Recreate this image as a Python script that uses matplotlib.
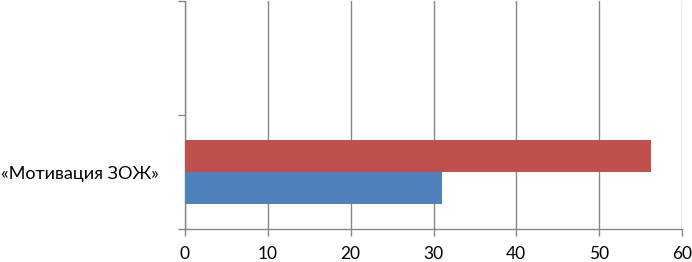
import matplotlib.pyplot as plt
import numpy as np

# данные
categories = ["«Мотивация ЗОЖ»", ""]
blue_vals = [31, np.nan]
red_vals = [56.3, np.nan]
x_ticks = [0, 10, 20, 30, 40, 50, 60]

plt.rcParams['font.family'] = ['Lato', 'DejaVu Sans']

fig = plt.figure(figsize=(6.92, 2.62), dpi=100)
ax = fig.add_axes([185 / 692, 33 / 262, 497 / 692, 228 / 262])

y = np.arange(len(categories))
h = 0.28
ax.barh(y - 0.14, blue_vals, height=h, color='#4F81BD', zorder=3)
ax.barh(y + 0.14, red_vals, height=h, color='#C0504D', zorder=3)

ax.set_xlim(0, 60)
ax.set_ylim(-0.5, 1.5)
ax.set_xticks(x_ticks)
ax.set_xticklabels([str(t) for t in x_ticks], fontsize=12.5)
ax.set_yticks([-0.5, 0.5, 1.5])
ax.set_yticklabels([])
ax.set_yticks(y, minor=True)
ax.set_yticklabels(categories, minor=True, fontsize=13)
ax.tick_params(axis='y', which='minor', length=0, pad=19)
ax.tick_params(axis='y', which='major', length=5, color='#868686', width=1)
ax.tick_params(axis='x', length=5, color='#868686', width=1, pad=7)

ax.grid(axis='x', color='#868686', linewidth=1, zorder=0)
for s in ['top', 'right']:
    ax.spines[s].set_visible(False)
for s in ['left', 'bottom']:
    ax.spines[s].set_color('#868686')
    ax.spines[s].set_linewidth(1)

fig.savefig('out.png', dpi=100)
